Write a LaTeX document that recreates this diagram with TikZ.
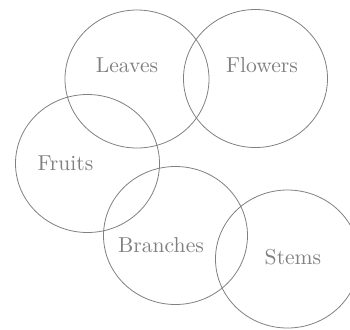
\documentclass[tikz,border=0pt]{standalone}
\usetikzlibrary{shapes.geometric}

\begin{document}
\begin{tikzpicture}[
    x=0.5pt, y=-0.5pt,
    % Node styles
    part/.style={
        ellipse, draw=black!50, line width=0.4pt,
        minimum width=72pt, minimum height=69pt, inner sep=0pt
    },
    tag/.style={font=\fontsize{10.8}{13}\selectfont, text=black!50, inner sep=0pt},
]
\useasboundingbox (0,0) rectangle (350,329);

% Plant parts
\node[part] (leaves)   at (137,79)   {};
\node[part] (flowers)  at (255.5,78.5) {};
\node[part] (fruits)   at (87.5,163.5) {};
\node[part] (branches) at (175.5,235.5) {};
\node[part] (stems)    at (287.5,259) {};

% Labels
\node[tag] (leavesL)   at (127,65)  {Leaves};
\node[tag] (flowersL)  at (262,65)  {Flowers};
\node[tag] (fruitsL)   at (65.5,163) {Fruits};
\node[tag] (branchesL) at (161,245) {Branches};
\node[tag] (stemsL)    at (293,257) {Stems};

\end{tikzpicture}
\end{document}
